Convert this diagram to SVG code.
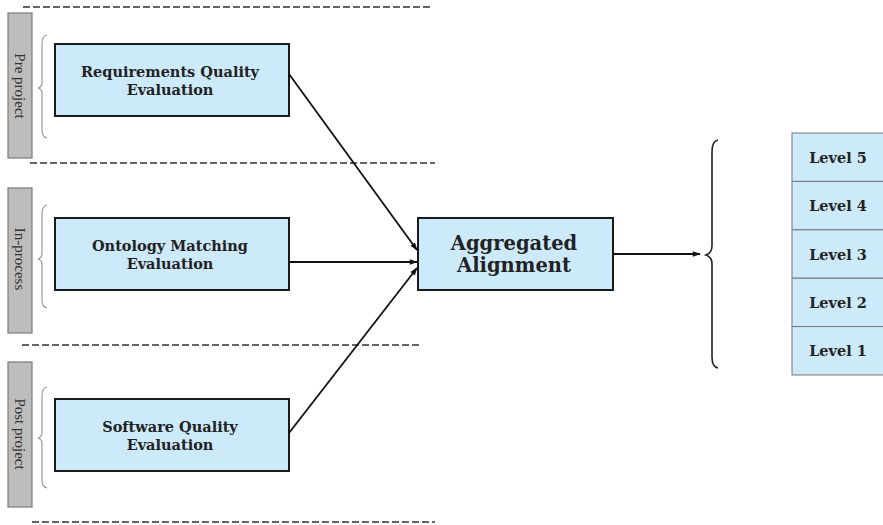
<svg xmlns="http://www.w3.org/2000/svg" width="883" height="525" viewBox="0 0 883 525">
  <style>
    .sep { stroke: #333; stroke-width: 1.6; stroke-dasharray: 7 3; fill: none; }
    .phase { fill: #bdbdbd; stroke: #7a7a7a; stroke-width: 1.2; }
    .phase-label { font-family: "Liberation Serif", "DejaVu Serif", serif; font-size: 15px; fill: #333; text-anchor: middle; dominant-baseline: central; }
    .brace-s { fill: none; stroke: #999; stroke-width: 1.2; }
    .brace-l { fill: none; stroke: #222; stroke-width: 1.6; }
    .box { fill: #cdeafb; stroke: #1a1a1a; stroke-width: 2; }
    .lvl { fill: #cdeafb; stroke: #777; stroke-width: 1; }
    .t { font-family: "DejaVu Serif", "Liberation Serif", serif; font-weight: bold; fill: #222; text-anchor: middle; }
    .t13 { font-size: 14.5px; }
    .lv { font-size: 14.5px; }
    .t18 { font-size: 19.5px; }
    .conn { stroke: #111; stroke-width: 1.8; fill: none; marker-end: url(#arrow); }
  </style>
  <defs>
    <marker id="arrow" viewBox="0 0 10 10" refX="9" refY="5" markerWidth="9" markerHeight="8" orient="auto" markerUnits="userSpaceOnUse">
      <path d="M0,1.5 L10,5 L0,8.5 z" fill="#111"/>
    </marker>
  </defs>

  <rect width="883" height="525" fill="#ffffff"/>

  <!-- phase separators -->
  <g id="separators">
    <line class="sep" x1="23" y1="7" x2="430" y2="7"/>
    <line class="sep" x1="30" y1="163" x2="435" y2="163"/>
    <line class="sep" x1="22" y1="345" x2="420" y2="345"/>
    <line class="sep" x1="32" y1="522" x2="435" y2="522"/>
  </g>

  <!-- phase tabs -->
  <g id="phase-pre">
    <rect class="phase" x="8" y="13" width="24" height="145"/>
    <text class="phase-label" transform="translate(20,86) rotate(90)">Pre project</text>
    <path class="brace-s" d="M47,35 Q42,36 42,44 L42,82 Q42,87 38,88 Q42,89 42,94 L42,130 Q42,137 47,138"/>
  </g>
  <g id="phase-in">
    <rect class="phase" x="8" y="188" width="24" height="145"/>
    <text class="phase-label" transform="translate(20,259) rotate(90)">In-process</text>
    <path class="brace-s" d="M47,205 Q42,206 42,214 L42,253 Q42,258 38,259 Q42,260 42,265 L42,300 Q42,307 47,308"/>
  </g>
  <g id="phase-post">
    <rect class="phase" x="8" y="362" width="24" height="145"/>
    <text class="phase-label" transform="translate(20,434) rotate(90)">Post project</text>
    <path class="brace-s" d="M47,387 Q42,388 42,396 L42,432 Q42,437 38,438 Q42,439 42,444 L42,480 Q42,487 47,488"/>
  </g>

  <!-- evaluation nodes -->
  <g id="req-quality">
    <rect class="box" x="55" y="44" width="234" height="72"/>
    <text class="t t13" x="170" y="77">Requirements Quality</text>
    <text class="t t13" x="170" y="95">Evaluation</text>
  </g>
  <g id="onto-matching">
    <rect class="box" x="55" y="218" width="234" height="72"/>
    <text class="t t13" x="170" y="251">Ontology Matching</text>
    <text class="t t13" x="170" y="269">Evaluation</text>
  </g>
  <g id="sw-quality">
    <rect class="box" x="55" y="399" width="234" height="72"/>
    <text class="t t13" x="170" y="432">Software Quality</text>
    <text class="t t13" x="170" y="450">Evaluation</text>
  </g>

  <g id="aggregated">
    <rect class="box" x="418" y="218" width="195" height="72"/>
    <text class="t t18" x="514" y="250">Aggregated</text>
    <text class="t t18" x="514" y="272">Alignment</text>
  </g>

  <!-- maturity levels -->
  <g id="levels">
    <rect class="lvl" x="792" y="133" width="95" height="48.4"/>
    <rect class="lvl" x="792" y="181.4" width="95" height="48.4"/>
    <rect class="lvl" x="792" y="229.8" width="95" height="48.4"/>
    <rect class="lvl" x="792" y="278.2" width="95" height="48.4"/>
    <rect class="lvl" x="792" y="326.6" width="95" height="48.4"/>
    <text class="t lv" x="838" y="163">Level 5</text>
    <text class="t lv" x="838" y="211">Level 4</text>
    <text class="t lv" x="838" y="260">Level 3</text>
    <text class="t lv" x="838" y="308">Level 2</text>
    <text class="t lv" x="838" y="356">Level 1</text>
  </g>

  <g id="level-brace">
    <path class="brace-l" d="M718,140 Q712,141 712,152 L712,246 Q712,253 706,255 Q712,257 712,264 L712,357 Q712,367 718,368"/>
  </g>

  <!-- connectors -->
  <g id="connectors">
    <line class="conn" x1="289" y1="74" x2="417" y2="250"/>
    <line class="conn" x1="289" y1="262" x2="417" y2="262"/>
    <line class="conn" x1="289" y1="433" x2="417" y2="268"/>
    <line class="conn" x1="613" y1="254" x2="700" y2="254"/>
  </g>
</svg>
